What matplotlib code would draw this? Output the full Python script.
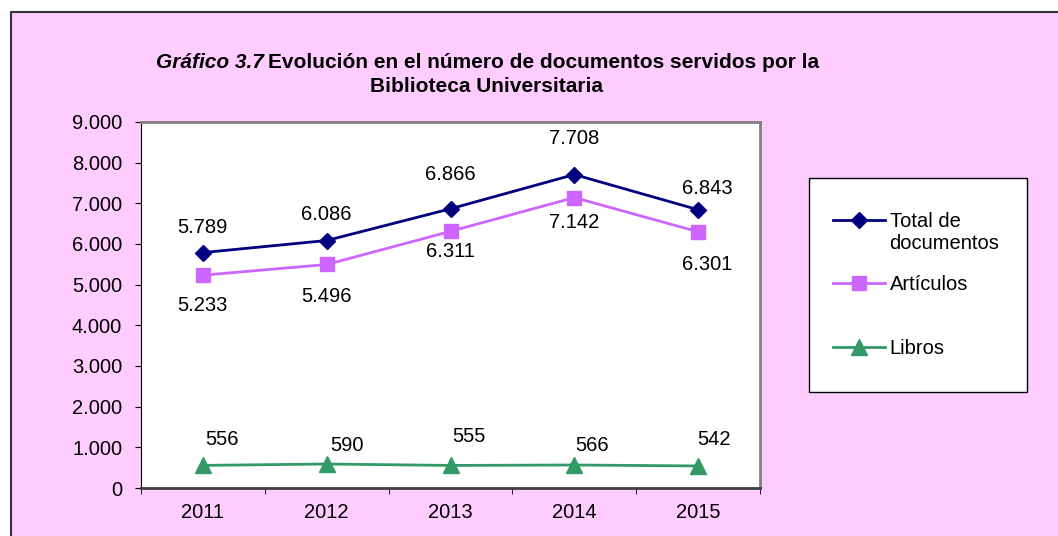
import matplotlib.pyplot as plt
from matplotlib.lines import Line2D

plt.rcParams['font.family'] = ['Liberation Sans', 'DejaVu Sans']

years = ['2011', '2012', '2013', '2014', '2015']
total = [5789, 6086, 6866, 7708, 6843]
articulos = [5233, 5496, 6311, 7142, 6301]
libros = [556, 590, 555, 566, 542]

pink = '#FFCCFF'
c_total = '#000080'
c_art = '#CC66FF'
c_lib = '#339966'
FS = 14.5

W, H = 1058, 536
fig = plt.figure(figsize=(W / 100, H / 100), dpi=100)
fig.patch.set_facecolor('white')
# pink chart area, border only on top and left
fig.add_artist(plt.Rectangle((11 / W, 0), 1, 1 - 13 / H, transform=fig.transFigure,
                             facecolor=pink, edgecolor='none', zorder=0))
fig.add_artist(Line2D([11 / W, 11 / W, 1], [0, 1 - 12 / H, 1 - 12 / H],
                      transform=fig.transFigure, color='#333333', linewidth=1.5))

ax = fig.add_axes([141 / W, 1 - 488 / H, (760 - 141) / W, (488 - 122) / H])
ax.set_facecolor('white')
x = list(range(len(years)))

ax.plot(x, total, color=c_total, marker='D', markersize=8, linewidth=2,
        label='Total de', clip_on=False)
ax.plot(x, articulos, color=c_art, marker='s', markersize=10, linewidth=2,
        label='Artículos', clip_on=False)
ax.plot(x, libros, color=c_lib, marker='^', markersize=11, linewidth=2,
        label='Libros', clip_on=False)

ax.set_xlim(-0.5, 4.5)
ax.set_ylim(0, 9000)
ax.set_yticks(range(0, 9001, 1000))
ax.set_yticklabels(['0'] + [f'{v // 1000}.000' for v in range(1000, 9001, 1000)])
ax.set_xticks(x)
ax.set_xticklabels(years)
ax.set_xticks([i + 0.5 for i in range(-1, 5)], minor=True)
ax.tick_params(axis='x', which='major', length=0, pad=11, labelsize=FS)
ax.tick_params(axis='x', which='minor', length=4.5, direction='out', color='black')
ax.tick_params(axis='y', length=4.5, direction='out', labelsize=FS, pad=9)

for s in ['top', 'right']:
    ax.spines[s].set_color('#808080')
    ax.spines[s].set_linewidth(2)
ax.spines['left'].set_color('black')
ax.spines['bottom'].set_color('#404040')
ax.spines['bottom'].set_linewidth(2)

def fmt(v):
    return f'{v / 1000:.3f}' if v >= 1000 else str(v)

# data labels (offsets in points)
tot_off = [(0, 18.4), (0, 18.4), (0, 25), (0, 26.3), (6.5, 15.6)]
art_off = [(0, -21.6), (0, -23.4), (0, -14.4), (0, -17.6), (6.5, -23.4)]
lib_off = [(13.7, 19), (14.4, 13), (13, 21), (13, 13.7), (11.5, 18.7)]
for i in x:
    for vals, off in ((total, tot_off), (articulos, art_off), (libros, lib_off)):
        ax.annotate(fmt(vals[i]), (i, vals[i]), textcoords='offset points',
                    xytext=off[i], ha='center', va='center',
                    fontsize=FS, annotation_clip=False)

# legend box
fig.add_artist(plt.Rectangle((809 / W, 1 - 392 / H), 218 / W, 214 / H,
                             transform=fig.transFigure, facecolor='white',
                             edgecolor='black', linewidth=1, zorder=2))
leg = fig.legend(loc='upper left', bbox_to_anchor=(809 / W, 1 - 188 / H),
                 bbox_transform=fig.transFigure, frameon=False,
                 fontsize=FS, labelspacing=2.2, handlelength=2.55,
                 borderpad=1.2, borderaxespad=0, handletextpad=0.25)
leg.set_zorder(3)
fig.add_artist(
    plt.Annotation('documentos', xy=(0, 0), xycoords=leg.get_texts()[0],
                   xytext=(0, -2), textcoords='offset points', ha='left', va='top',
                   fontsize=FS, zorder=4))

fig.text(264 / W, 1 - 62 / H, 'Gráfico 3.7', ha='right', va='center',
         fontsize=15, fontweight='bold', fontstyle='italic')
fig.text(268 / W, 1 - 62 / H, 'Evolución en el número de documentos servidos por la',
         ha='left', va='center', fontsize=15, fontweight='bold')
fig.text(486 / W, 1 - 87 / H, 'Biblioteca Universitaria', ha='center', va='center',
         fontsize=15, fontweight='bold')

fig.savefig('out.png', dpi=100)
